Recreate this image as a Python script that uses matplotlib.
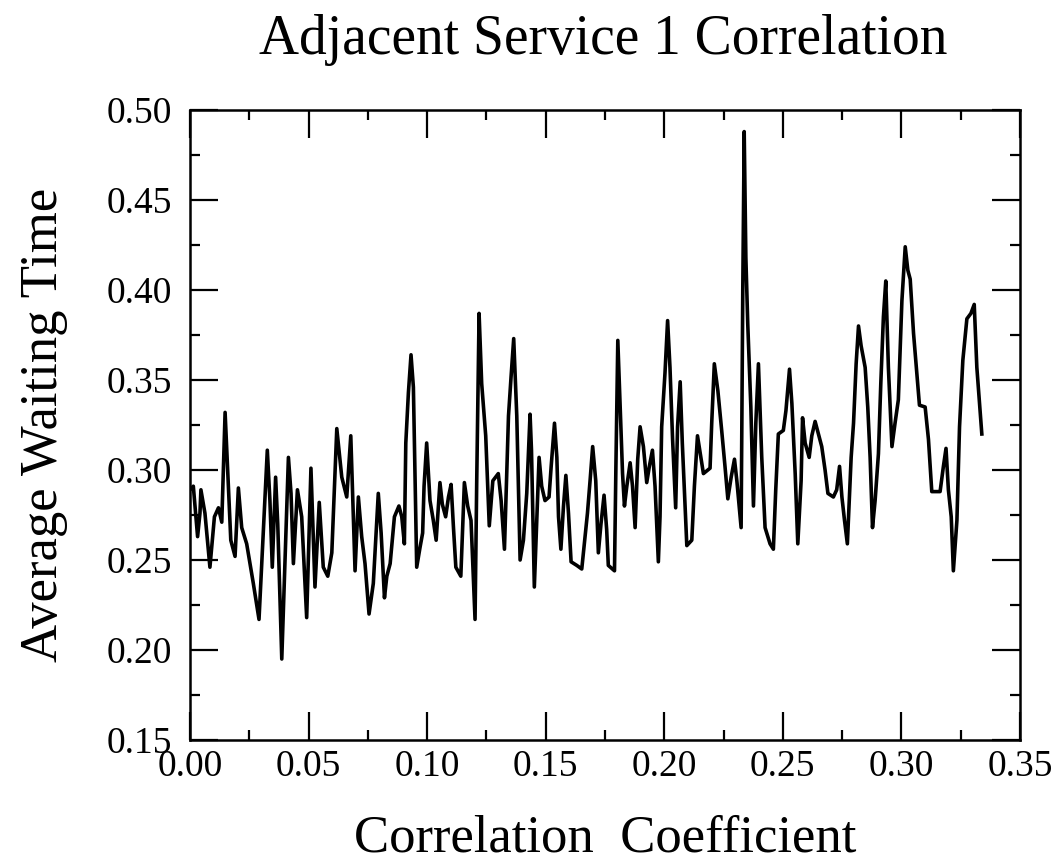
import matplotlib
matplotlib.use('Agg')
import matplotlib.pyplot as plt
from matplotlib.ticker import MultipleLocator

# values
corr = [0.0000, 0.0014, 0.0032, 0.0042, 0.0046, 0.0063, 0.0084, 0.0103, 0.0120, 0.0134,
        0.0148, 0.0159, 0.0172, 0.0190, 0.0204, 0.0218, 0.0239, 0.0253, 0.0267, 0.0291,
        0.0326, 0.0337, 0.0347, 0.0361, 0.0370, 0.0387, 0.0415, 0.0426, 0.0436, 0.0453,
        0.0471, 0.0492, 0.0510, 0.0527, 0.0545, 0.0562, 0.0581, 0.0598, 0.0619, 0.0640,
        0.0661, 0.0678, 0.0696, 0.0710, 0.0724, 0.0738, 0.0755, 0.0773, 0.0794, 0.0806,
        0.0820, 0.0830, 0.0844, 0.0862, 0.0881, 0.0893, 0.0904, 0.0910, 0.0921, 0.0932,
        0.0942, 0.0956, 0.0970, 0.0981, 0.0987, 0.0998, 0.1012, 0.1026, 0.1038, 0.1054,
        0.1064, 0.1078, 0.1090, 0.1101, 0.1111, 0.1121, 0.1142, 0.1157, 0.1171, 0.1185,
        0.1202, 0.1209, 0.1219, 0.1230, 0.1247, 0.1262, 0.1277, 0.1300, 0.1312, 0.1326,
        0.1343, 0.1354, 0.1365, 0.1378, 0.1392, 0.1406, 0.1420, 0.1434, 0.1440, 0.1452,
        0.1472, 0.1483, 0.1497, 0.1514, 0.1523, 0.1537, 0.1547, 0.1554, 0.1564, 0.1575,
        0.1585, 0.1596, 0.1607, 0.1631, 0.1652, 0.1676, 0.1687, 0.1698, 0.1711, 0.1722,
        0.1733, 0.1746, 0.1757, 0.1764, 0.1790, 0.1796, 0.1804, 0.1814, 0.1824, 0.1832,
        0.1842, 0.1856, 0.1866, 0.1877, 0.1888, 0.1898, 0.1912, 0.1926, 0.1937, 0.1950,
        0.1961, 0.1975, 0.1982, 0.1989, 0.2003, 0.2014, 0.2024, 0.2035, 0.2048, 0.2056,
        0.2067, 0.2076, 0.2095, 0.2116, 0.2127, 0.2140, 0.2165, 0.2193, 0.2200, 0.2211,
        0.2226, 0.2242, 0.2256, 0.2268, 0.2282, 0.2296, 0.2306, 0.2324, 0.2331, 0.2337,
        0.2344, 0.2352, 0.2365, 0.2376, 0.2386, 0.2397, 0.2411, 0.2425, 0.2446, 0.2460,
        0.2470, 0.2481, 0.2502, 0.2513, 0.2528, 0.2538, 0.2552, 0.2563, 0.2577, 0.2583,
        0.2594, 0.2611, 0.2622, 0.2636, 0.2650, 0.2664, 0.2678, 0.2690, 0.2713, 0.2727,
        0.2739, 0.2749, 0.2760, 0.2772, 0.2788, 0.2798, 0.2809, 0.2819, 0.2830, 0.2847,
        0.2858, 0.2868, 0.2878, 0.2889, 0.2903, 0.2913, 0.2924, 0.2934, 0.2945, 0.2960,
        0.2973, 0.2987, 0.3002, 0.3016, 0.3027, 0.3037, 0.3051, 0.3065, 0.3076, 0.3100,
        0.3114, 0.3128, 0.3163, 0.3177, 0.3188, 0.3198, 0.3210, 0.3219, 0.3234, 0.3245,
        0.3259, 0.3276, 0.3293, 0.3307, 0.3318, 0.3339]

wait = [0.289, 0.291, 0.263, 0.276, 0.289, 0.276, 0.246, 0.274, 0.279, 0.271,
        0.332, 0.300, 0.261, 0.252, 0.290, 0.268, 0.259, 0.248, 0.237, 0.217,
        0.311, 0.283, 0.246, 0.296, 0.270, 0.195, 0.307, 0.287, 0.248, 0.289,
        0.274, 0.218, 0.301, 0.235, 0.282, 0.246, 0.241, 0.254, 0.323, 0.296,
        0.285, 0.319, 0.244, 0.285, 0.263, 0.248, 0.220, 0.237, 0.287, 0.265,
        0.229, 0.241, 0.248, 0.274, 0.280, 0.274, 0.259, 0.315, 0.343, 0.364,
        0.346, 0.246, 0.257, 0.265, 0.291, 0.315, 0.283, 0.272, 0.261, 0.293,
        0.281, 0.274, 0.285, 0.292, 0.268, 0.246, 0.241, 0.293, 0.280, 0.272,
        0.217, 0.293, 0.387, 0.348, 0.319, 0.269, 0.294, 0.298, 0.283, 0.256,
        0.330, 0.352, 0.373, 0.330, 0.250, 0.261, 0.287, 0.331, 0.311, 0.235,
        0.307, 0.291, 0.283, 0.285, 0.302, 0.326, 0.307, 0.274, 0.256, 0.280,
        0.297, 0.276, 0.249, 0.247, 0.245, 0.276, 0.294, 0.313, 0.294, 0.254,
        0.270, 0.286, 0.267, 0.247, 0.244, 0.302, 0.372, 0.335, 0.298, 0.280,
        0.291, 0.304, 0.291, 0.268, 0.306, 0.324, 0.313, 0.293, 0.302, 0.311,
        0.291, 0.249, 0.274, 0.324, 0.354, 0.383, 0.357, 0.317, 0.279, 0.324,
        0.349, 0.315, 0.258, 0.261, 0.291, 0.319, 0.298, 0.301, 0.326, 0.359,
        0.344, 0.322, 0.302, 0.284, 0.296, 0.306, 0.294, 0.268, 0.400, 0.488,
        0.418, 0.381, 0.335, 0.280, 0.326, 0.359, 0.307, 0.268, 0.259, 0.256,
        0.289, 0.320, 0.322, 0.333, 0.356, 0.337, 0.298, 0.259, 0.294, 0.329,
        0.315, 0.307, 0.319, 0.327, 0.320, 0.313, 0.300, 0.287, 0.285, 0.289,
        0.302, 0.285, 0.272, 0.259, 0.307, 0.326, 0.359, 0.380, 0.369, 0.357,
        0.335, 0.307, 0.268, 0.283, 0.309, 0.348, 0.385, 0.405, 0.357, 0.313,
        0.326, 0.339, 0.394, 0.424, 0.411, 0.406, 0.376, 0.354, 0.336, 0.335,
        0.317, 0.288, 0.288, 0.302, 0.312, 0.289, 0.274, 0.244, 0.272, 0.324,
        0.361, 0.384, 0.387, 0.392, 0.357, 0.320]

plt.rcParams['font.family'] = ['Liberation Serif', 'DejaVu Serif']

fig = plt.figure(figsize=(10.56, 8.65), dpi=100)
ax = fig.add_axes([190 / 1056, 1 - 740 / 865, 830 / 1056, 630 / 865])

ax.plot(corr, wait, color='black', linewidth=2.6)

ax.set_xlim(0.0, 0.35)
ax.set_ylim(0.15, 0.50)
ax.xaxis.set_major_locator(MultipleLocator(0.05))
ax.xaxis.set_minor_locator(MultipleLocator(0.025))
ax.yaxis.set_major_locator(MultipleLocator(0.05))
ax.yaxis.set_minor_locator(MultipleLocator(0.025))
ax.xaxis.set_major_formatter(lambda v, p: '%.2f' % v)
ax.yaxis.set_major_formatter(lambda v, p: '%.2f' % v)

ax.tick_params(which='both', direction='in', top=True, right=True, width=1.6)
ax.tick_params(which='major', length=20, labelsize=27)
ax.tick_params(which='minor', length=7)
ax.tick_params(axis='x', which='major', pad=7)
ax.tick_params(axis='y', which='major', pad=13)
for s in ax.spines.values():
    s.set_linewidth(1.8)

ax.set_xlabel('Correlation  Coefficient', fontsize=38, labelpad=22)
ax.set_ylabel('Average Waiting Time', fontsize=38, labelpad=28)
fig.text(603 / 1056, 1 - 40 / 865, 'Adjacent Service 1 Correlation',
         fontsize=40, ha='center', va='center')

fig.savefig('out.png', dpi=100)
